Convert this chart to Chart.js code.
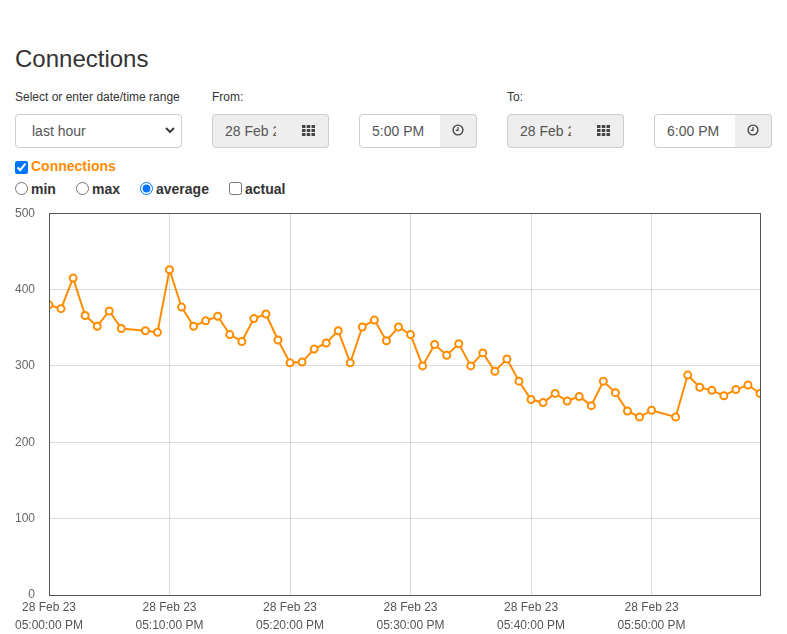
<!DOCTYPE html>
<html>
<head>
<meta charset="utf-8">
<title>Connections</title>
<script src="https://cdn.jsdelivr.net/npm/chart.js@4/dist/chart.umd.min.js"></script>
<style>
  html, body { margin: 0; padding: 0; background: #fff; }
  body { width: 787px; height: 634px; position: relative; overflow: hidden;
         font-family: "Liberation Sans", Arial, Helvetica, sans-serif; color: #333; }
  .abs { position: absolute; }
  h1 { margin: 0; font-size: 24px; font-weight: normal; line-height: 32px; left: 15px; top: 43px; }
  .lbl { font-size: 12px; line-height: 16px; top: 89px; }
  .box { top: 114px; height: 34px; box-sizing: border-box; border: 1px solid #ccc;
         font-size: 14px; line-height: 32px; color: #555; overflow: hidden; white-space: nowrap; }
  .sel { left: 15px; width: 167px; border-radius: 4px; padding-left: 16px; background: #fff; }
  .sel svg { position: absolute; right: 6px; top: 11px; }
  .inp { padding-left: 12px; border-radius: 4px 0 0 4px; }
  .inp span { display: inline-block; overflow: hidden; vertical-align: top; }
  .ro { background: #eee; }
  .btn { background: #eee; border-radius: 0 4px 4px 0; border-left: none; text-align: center; }
  .btn svg { display: inline-block; vertical-align: middle; margin-top: -4px; }
  .chk { font-size: 14px; font-weight: bold; line-height: 18px; }
  .chk input { position: absolute; margin: 0; width: 13px; height: 13px; }
  #chartBox { left: 8px; top: 192px; width: 764px; height: 442px; }
</style>
</head>
<body>
<h1 class="abs">Connections</h1>

<div class="abs lbl" style="left:15px">Select or enter date/time range</div>
<div class="abs lbl" style="left:212px">From:</div>
<div class="abs lbl" style="left:507px">To:</div>

<div class="abs box sel">last hour
  <svg width="10" height="8" viewBox="0 0 10 8"><path d="M1 2 L5 6 L9 2" fill="none" stroke="#333" stroke-width="1.8"/></svg>
</div>

<div class="abs box inp ro" style="left:212px;width:77px;"><span style="width:51px">28 Feb 2023</span></div>
<div class="abs box btn" style="left:288px;width:41px;"><svg width="13" height="11" viewBox="0 0 13 11"><g fill="#444">
  <rect x="0" y="0" width="3.5" height="3"/><rect x="4.75" y="0" width="3.5" height="3"/><rect x="9.5" y="0" width="3.5" height="3"/>
  <rect x="0" y="4" width="3.5" height="3"/><rect x="4.75" y="4" width="3.5" height="3"/><rect x="9.5" y="4" width="3.5" height="3"/>
  <rect x="0" y="8" width="3.5" height="3"/><rect x="4.75" y="8" width="3.5" height="3"/><rect x="9.5" y="8" width="3.5" height="3"/></g></svg></div>

<div class="abs box inp" style="left:359px;width:82px;background:#fff;">5:00 PM</div>
<div class="abs box btn" style="left:440px;width:37px;"><svg width="12" height="12" viewBox="0 0 12 12"><circle cx="6" cy="6" r="4.9" fill="none" stroke="#444" stroke-width="1.4"/><path d="M6 3 V6.3 H3.8" fill="none" stroke="#444" stroke-width="1.2"/></svg></div>

<div class="abs box inp ro" style="left:507px;width:77px;"><span style="width:51px">28 Feb 2023</span></div>
<div class="abs box btn" style="left:583px;width:41px;"><svg width="13" height="11" viewBox="0 0 13 11"><g fill="#444">
  <rect x="0" y="0" width="3.5" height="3"/><rect x="4.75" y="0" width="3.5" height="3"/><rect x="9.5" y="0" width="3.5" height="3"/>
  <rect x="0" y="4" width="3.5" height="3"/><rect x="4.75" y="4" width="3.5" height="3"/><rect x="9.5" y="4" width="3.5" height="3"/>
  <rect x="0" y="8" width="3.5" height="3"/><rect x="4.75" y="8" width="3.5" height="3"/><rect x="9.5" y="8" width="3.5" height="3"/></g></svg></div>

<div class="abs box inp" style="left:654px;width:82px;background:#fff;">6:00 PM</div>
<div class="abs box btn" style="left:735px;width:37px;"><svg width="12" height="12" viewBox="0 0 12 12"><circle cx="6" cy="6" r="4.9" fill="none" stroke="#444" stroke-width="1.4"/><path d="M6 3 V6.3 H3.8" fill="none" stroke="#444" stroke-width="1.2"/></svg></div>

<label class="abs chk" style="left:15px;top:157px;"><input type="checkbox" checked style="left:0;top:4px;"><span style="margin-left:16px;color:#ff8c00;">Connections</span></label>

<label class="abs chk" style="left:15px;top:180px;"><input type="radio" name="agg" style="left:0;top:2px;"><span style="margin-left:16px;">min</span></label>
<label class="abs chk" style="left:76px;top:180px;"><input type="radio" name="agg" style="left:0;top:2px;"><span style="margin-left:16px;">max</span></label>
<label class="abs chk" style="left:140px;top:180px;"><input type="radio" name="agg" checked style="left:0;top:2px;"><span style="margin-left:16px;">average</span></label>
<label class="abs chk" style="left:229px;top:180px;"><input type="checkbox" style="left:0;top:2px;"><span style="margin-left:16px;">actual</span></label>

<div id="chartBox" class="abs"><canvas id="connChart"></canvas></div>

<script>
// minutes after 05:00 PM, one averaged sample per minute (05:07 and 05:51 missing)
const minutes = [0, 1, 2, 3, 4, 5, 6, 8, 9, 10, 11, 12, 13, 14, 15, 16, 17, 18, 19, 20,
  21, 22, 23, 24, 25, 26, 27, 28, 29, 30, 31, 32, 33, 34, 35, 36, 37, 38, 39, 40,
  41, 42, 43, 44, 45, 46, 47, 48, 49, 50, 52, 53, 54, 55, 56, 57, 58, 59];
const connections = [380, 375, 415, 366, 352, 372, 349, 346, 344, 426, 377, 352, 359, 365, 341, 332, 362, 368, 334, 304,
  305, 322, 330, 346, 304, 351, 360, 333, 351, 341, 300, 328, 314, 329, 300, 317, 293, 309, 280, 256,
  252, 264, 254, 260, 248, 280, 265, 241, 233, 242, 233, 288, 272, 268, 261, 269, 275, 264];

const tickDates = ["28 Feb 23", "28 Feb 23", "28 Feb 23", "28 Feb 23", "28 Feb 23", "28 Feb 23"];
const tickTimes = ["05:00:00 PM", "05:10:00 PM", "05:20:00 PM", "05:30:00 PM", "05:40:00 PM", "05:50:00 PM"];
const yTicks = [0, 100, 200, 300, 400, 500];

// frame around the plot area (all four sides)
const frame = {
  id: "frame",
  afterDraw(chart) {
    const { ctx, chartArea: a } = chart;
    ctx.save();
    ctx.strokeStyle = "#555";
    ctx.lineWidth = 1;
    ctx.strokeRect(Math.round(a.left) + 0.5, Math.round(a.top) + 0.5,
      Math.round(a.right - a.left), Math.round(a.bottom - a.top));
    ctx.restore();
  }
};

new Chart(document.getElementById("connChart"), {
  type: "line",
  data: {
    datasets: [{
      label: "Connections",
      data: minutes.map((m, i) => ({ x: m, y: connections[i] })),
      borderColor: "#ff8c00",
      backgroundColor: "#fff",
      borderWidth: 2,
      pointRadius: 3.5,
      pointBorderWidth: 2,
      pointBackgroundColor: "#fff",
      pointBorderColor: "#ff8c00",
      tension: 0,
      fill: false
    }]
  },
  options: {
    responsive: true,
    maintainAspectRatio: false,
    animation: false,
    layout: { padding: { top: 0, right: 12, left: 0, bottom: 0 } },
    plugins: { legend: { display: false }, tooltip: { enabled: false } },
    scales: {
      x: {
        type: "linear",
        min: 0,
        max: 59,
        afterFit: s => { s.height = 39; },
        border: { display: false },
        grid: { color: "rgba(0,0,0,0.14)", drawTicks: false },
        ticks: {
          stepSize: 10,
          includeBounds: false,
          autoSkip: false,
          maxRotation: 0,
          padding: 4,
          color: "#555",
          font: { family: "Liberation Sans, Arial, sans-serif", size: 12, lineHeight: 1.5 },
          callback: v => {
            const i = v / 10;
            return Number.isInteger(i) && tickTimes[i] ? [tickDates[i], tickTimes[i]] : null;
          }
        }
      },
      y: {
        min: yTicks[0],
        max: yTicks[yTicks.length - 1],
        afterFit: s => { s.width = 41; },
        border: { display: false },
        grid: { color: "rgba(0,0,0,0.14)", drawTicks: false },
        ticks: {
          stepSize: 100,
          padding: 14,
          color: "#666",
          font: { family: "Liberation Sans, Arial, sans-serif", size: 12 }
        }
      }
    }
  },
  plugins: [frame]
});
</script>
</body>
</html>
